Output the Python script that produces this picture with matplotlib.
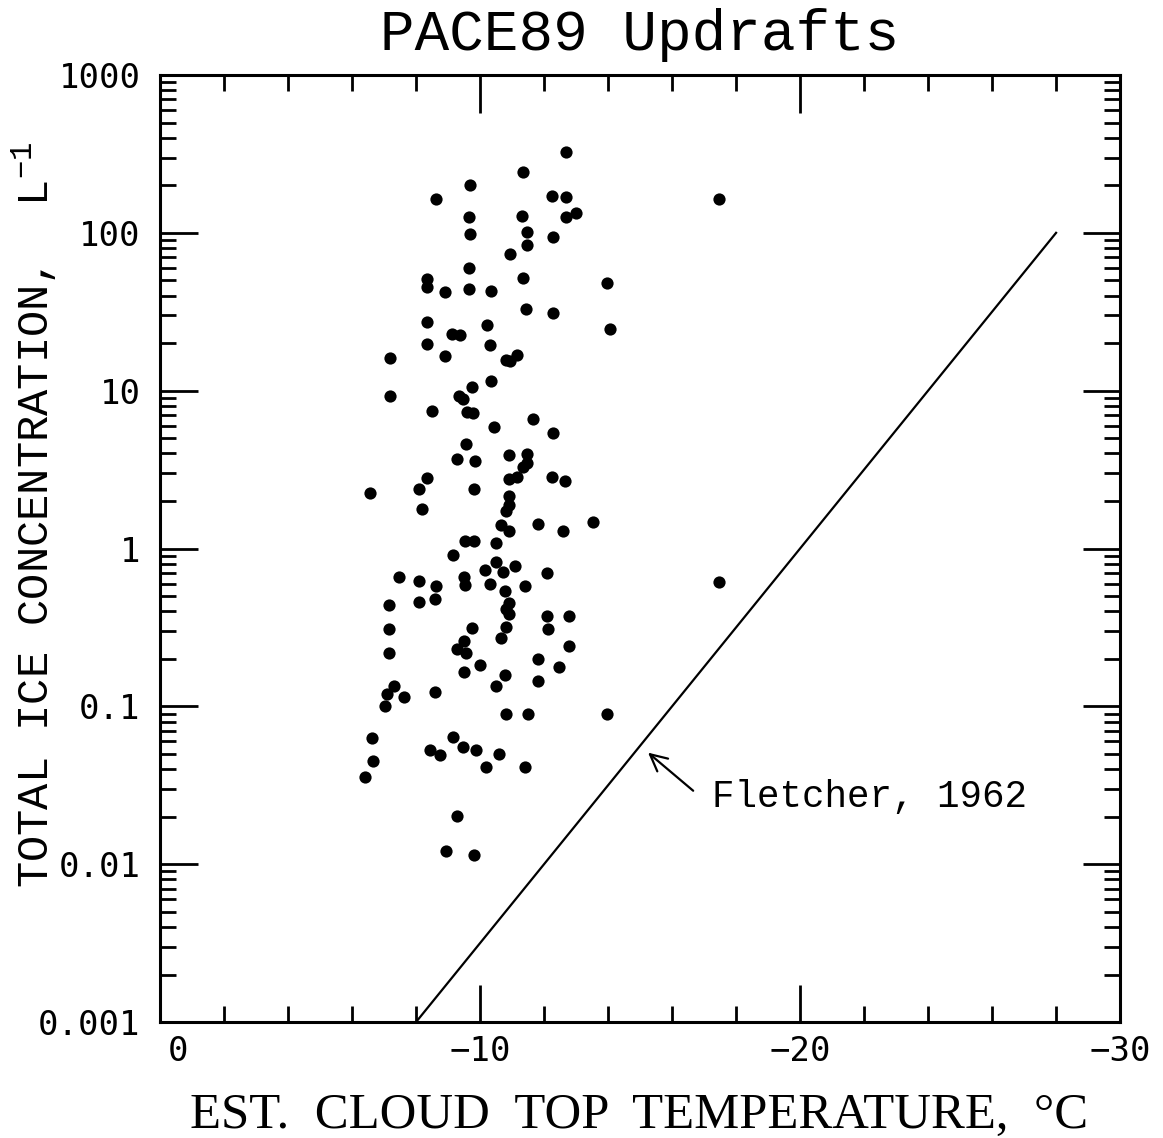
import matplotlib
matplotlib.use("Agg")
import matplotlib.pyplot as plt
from matplotlib.ticker import FixedLocator, FixedFormatter, LogLocator, MultipleLocator, NullFormatter
from matplotlib.transforms import ScaledTranslation

# estimated cloud top temperature (deg C) and total ice concentration (per litre)
temp = [-12.68, -11.34, -9.68, -8.63, -12.26, -12.68, -9.66, -11.32, -12.68, -12.99,
        -9.68, -11.46, -11.46, -12.28, -10.94, -9.66, -11.33, -13.98, -8.34, -8.34,
        -8.92, -9.66, -10.33, -11.45, -12.27, -14.05, -8.34, -9.12, -9.38, -10.23,
        -8.34, -10.32, -8.92, -7.20, -10.80, -10.94, -11.15, -10.33, -9.76, -7.18,
        -9.35, -9.48, -8.51, -9.60, -9.79, -10.44, -11.66, -12.28, -9.56, -9.27,
        -9.83, -10.91, -11.46, -11.46, -11.33, -8.34, -8.10, -6.55, -9.80, -10.91,
        -11.15, -12.26, -12.67, -10.91, -10.91, -10.80, -8.19, -10.65, -10.91, -11.80,
        -12.59, -13.54, -9.53, -9.82, -10.51, -9.15, -10.50, -10.16, -10.73, -11.10,
        -7.47, -8.08, -8.63, -9.50, -9.53, -10.32, -10.78, -11.40, -12.08, -7.17,
        -8.08, -8.60, -10.92, -10.80, -10.91, -12.10, -12.79, -7.17, -9.76, -10.80,
        -12.11, -10.65, -9.51, -9.29, -9.56, -12.79, -7.17, -10.00, -9.50, -11.80,
        -12.48, -10.78, -10.51, -11.80, -7.32, -7.08, -7.63, -7.04, -8.60, -10.80,
        -11.51, -13.98, -6.63, -6.65, -6.40, -9.16, -8.44, -8.75, -9.48, -9.88,
        -10.59, -10.20, -11.42, -9.28, -8.94, -9.80, -17.47, -17.47]
conc = [324, 242, 200, 164, 172, 169, 126, 128, 126, 134,
        98, 101, 84, 94, 73, 60, 52, 48, 51, 45.5,
        42, 44, 42.5, 33, 31, 24.5, 27.3, 22.7, 22.5, 26,
        19.9, 19.6, 16.6, 16.1, 15.7, 15.4, 16.8, 11.6, 10.6, 9.2,
        9.25, 8.9, 7.4, 7.3, 7.2, 5.9, 6.6, 5.4, 4.6, 3.7,
        3.56, 3.9, 3.95, 3.5, 3.3, 2.8, 2.4, 2.26, 2.4, 2.77,
        2.84, 2.82, 2.69, 2.14, 1.88, 1.72, 1.78, 1.40, 1.30, 1.43,
        1.30, 1.47, 1.12, 1.12, 1.08, 0.91, 0.82, 0.73, 0.71, 0.77,
        0.66, 0.62, 0.58, 0.66, 0.59, 0.60, 0.54, 0.575, 0.70, 0.44,
        0.455, 0.48, 0.45, 0.415, 0.386, 0.376, 0.376, 0.307, 0.315, 0.317,
        0.307, 0.27, 0.259, 0.23, 0.218, 0.24, 0.218, 0.183, 0.166, 0.20,
        0.177, 0.158, 0.135, 0.144, 0.134, 0.119, 0.114, 0.100, 0.124, 0.090,
        0.090, 0.089, 0.063, 0.045, 0.0355, 0.064, 0.053, 0.049, 0.055, 0.053,
        0.050, 0.041, 0.041, 0.0203, 0.0121, 0.0115, 164, 0.61]

# Fletcher (1962) curve end points
fletcher_temp = [-8, -28]
fletcher_conc = [0.001, 100]

x_ticks = [0, -10, -20, -30]
x_labels = ["0", "\u221210", "\u221220", "\u221230"]
y_ticks = [0.001, 0.01, 0.1, 1, 10, 100, 1000]
y_labels = ["0.001", "0.01", "0.1", "1", "10", "100", "1000"]

plt.rcParams["mathtext.fontset"] = "custom"
plt.rcParams["mathtext.rm"] = "Liberation Mono"

fig = plt.figure(figsize=(11.63, 11.38), dpi=100)
ax = fig.add_axes([0.1376, 0.1019, 0.8255, 0.8322])

ax.plot(temp, conc, "o", color="black", markersize=8.8, markeredgewidth=0)
ax.plot(fletcher_temp, fletcher_conc, color="black", linewidth=1.6)

ax.set_yscale("log")
ax.set_xlim(0, -30)
ax.set_ylim(0.001, 1000)

ax.xaxis.set_major_locator(FixedLocator(x_ticks))
ax.xaxis.set_major_formatter(FixedFormatter(x_labels))
ax.xaxis.set_minor_locator(MultipleLocator(2))
ax.yaxis.set_major_locator(FixedLocator(y_ticks))
ax.yaxis.set_major_formatter(FixedFormatter(y_labels))
ax.yaxis.set_minor_locator(LogLocator(base=10, subs=range(2, 10), numticks=20))
ax.yaxis.set_minor_formatter(NullFormatter())

ax.tick_params(which="both", direction="in", top=True, right=True, width=2, colors="black")
ax.tick_params(which="major", length=27)
ax.tick_params(which="minor", length=11.5)
ax.tick_params(axis="x", pad=9)
ax.tick_params(axis="y", pad=14)
for lab in ax.get_xticklabels() + ax.get_yticklabels():
    lab.set_family("DejaVu Sans Mono")
    lab.set_fontsize(24.5)
for sp in ax.spines.values():
    sp.set_linewidth(2.2)

# the "0" label sits a little right of its tick in the original
zero = ax.xaxis.get_major_ticks()[0].label1
zero.set_transform(zero.get_transform() + ScaledTranslation(0.18, 0, fig.dpi_scale_trans))

ax.set_title("PACE89 Updrafts", family="Liberation Mono", fontsize=41.5, pad=18)

fig.text(0.030, 0.5475, r"TOTAL ICE CONCENTRATION,  L$^{-1}$", rotation=90,
         ha="center", va="center", family="Liberation Mono", fontsize=31.5)
fig.text(0.5494, 0.0085, "EST.  CLOUD  TOP  TEMPERATURE,  \u00b0C", ha="center", va="baseline",
         family="Liberation Serif", fontsize=36.5)

ax.text(-17.25, 0.0268, "Fletcher, 1962", family="Liberation Mono", fontsize=27,
        ha="left", va="center")
ax.annotate("", xy=(-15.25, 0.0509), xytext=(-16.66, 0.0292),
            arrowprops=dict(arrowstyle="->,head_length=0.6,head_width=0.3",
                            mutation_scale=20, lw=1.6, color="black",
                            shrinkA=0, shrinkB=0))

fig.savefig("out.png", dpi=100)
